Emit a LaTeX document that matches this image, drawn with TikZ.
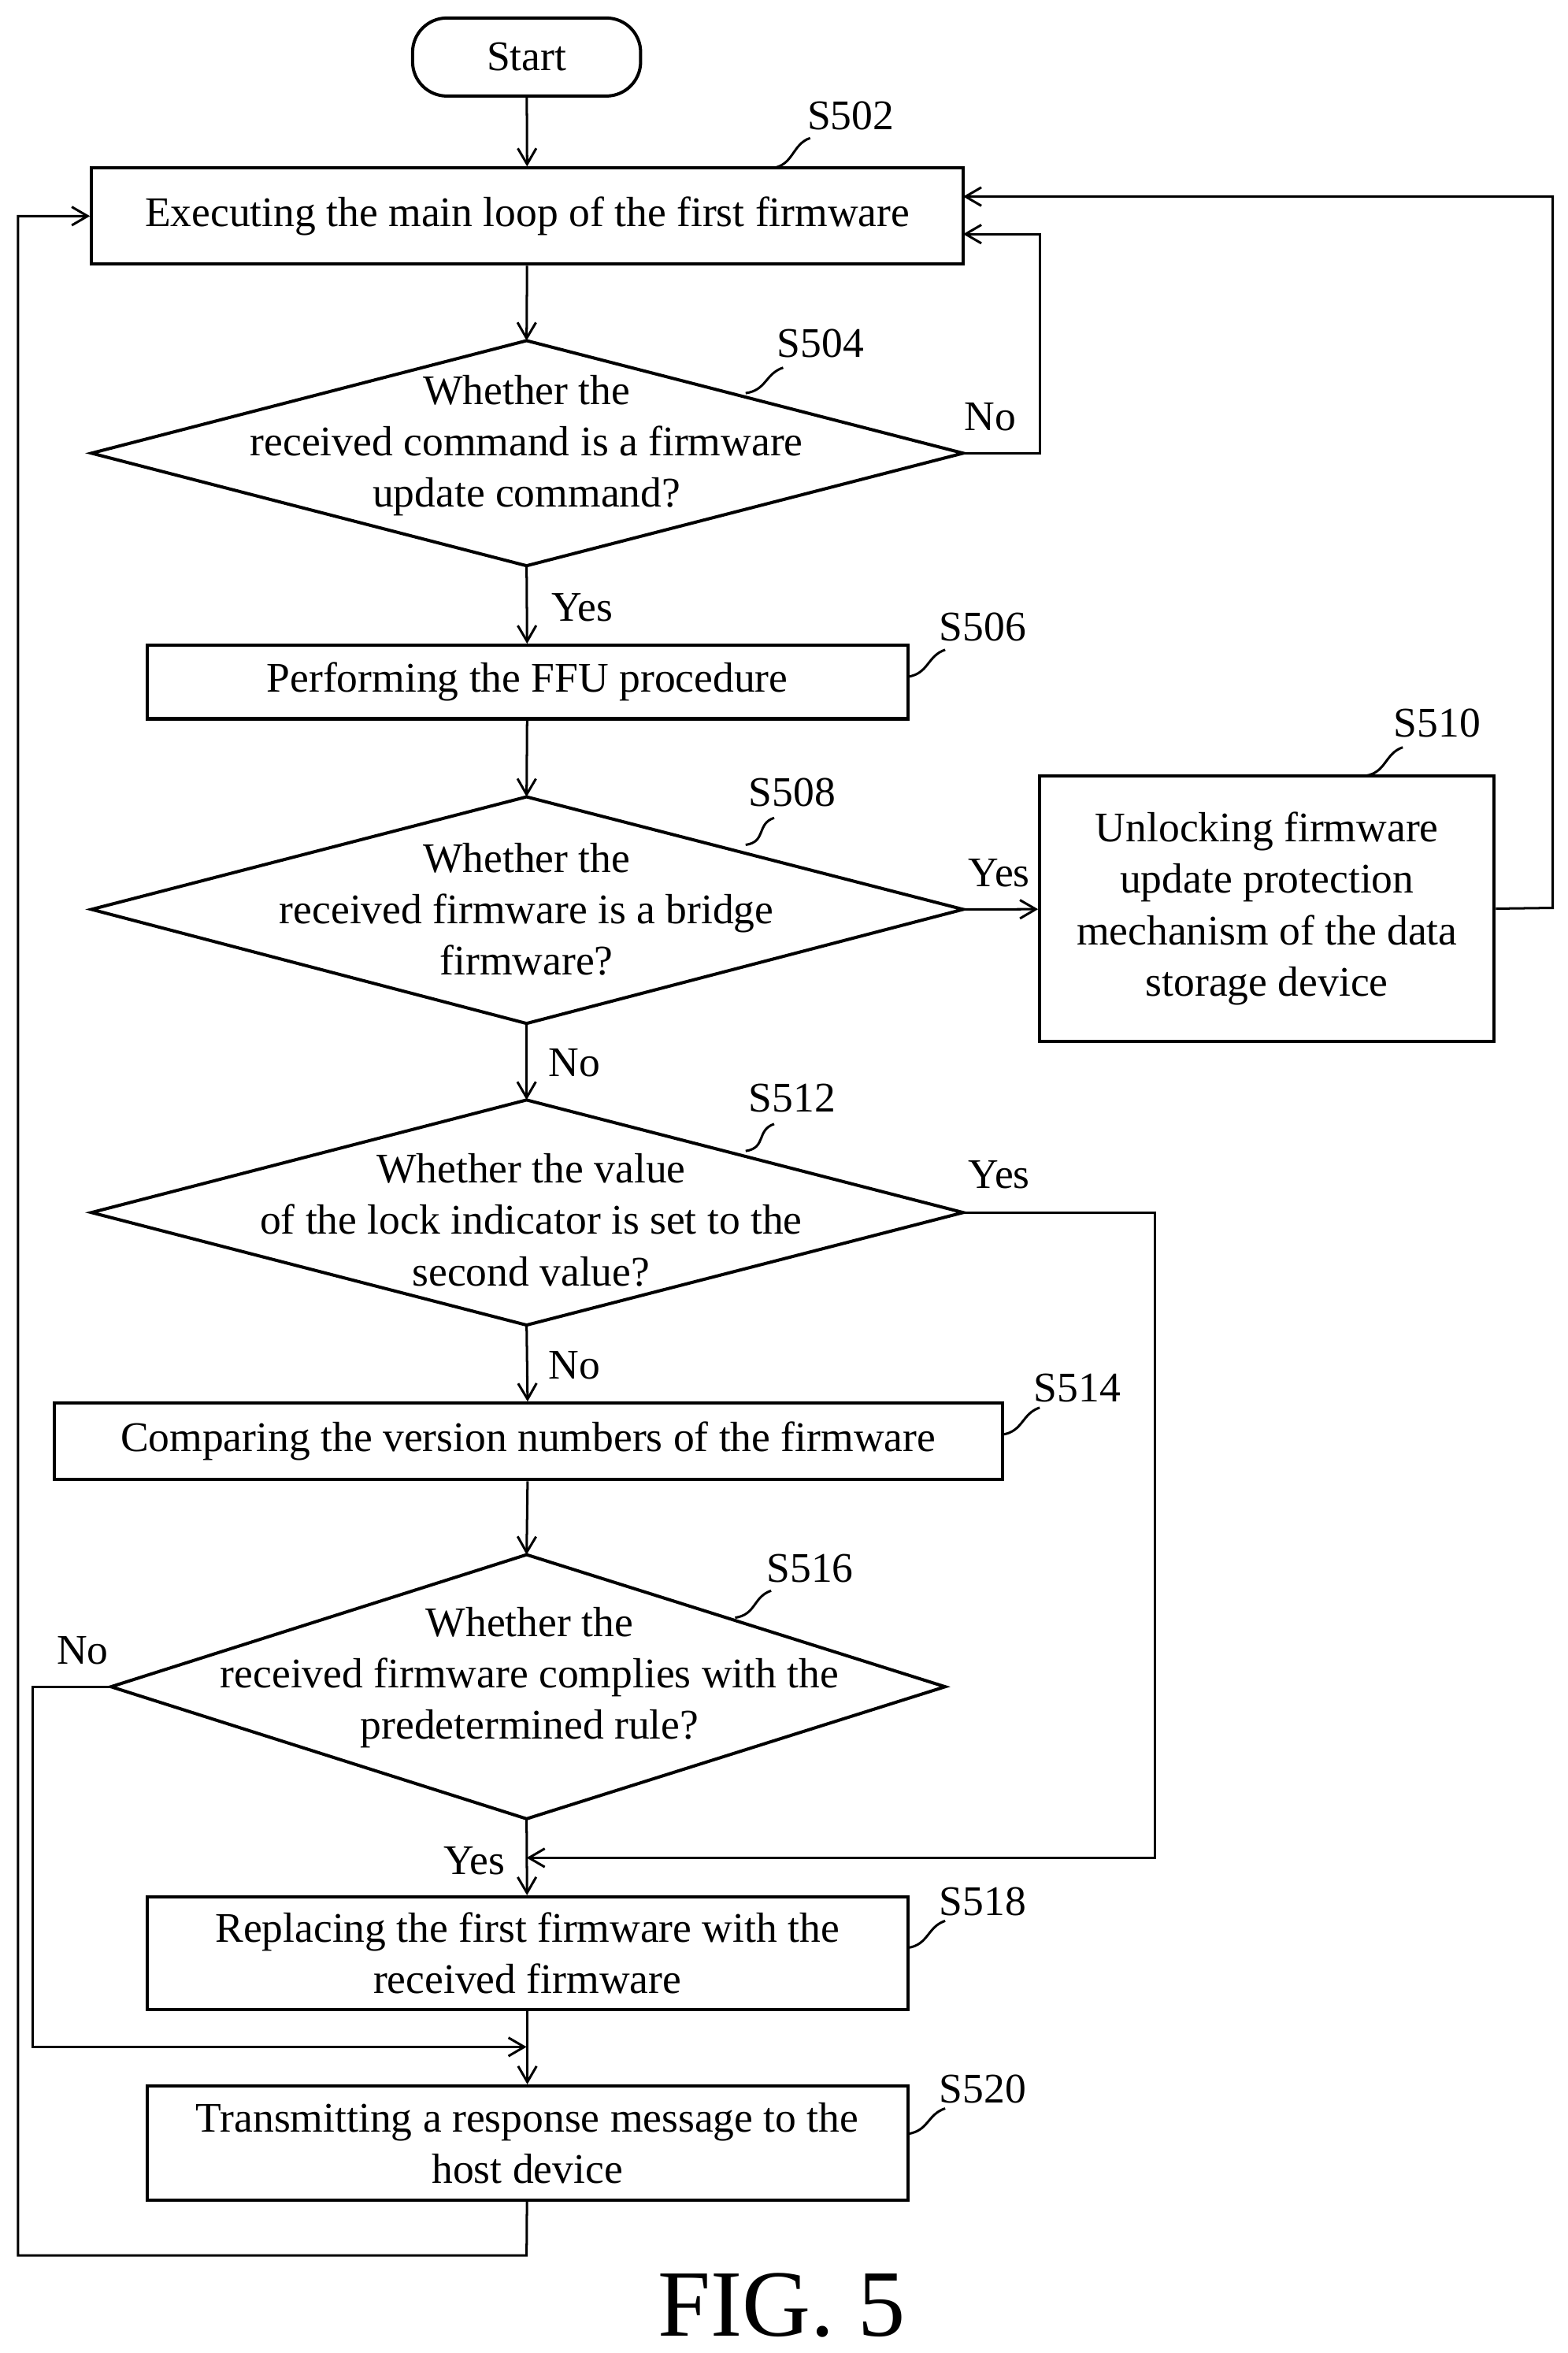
\documentclass[tikz,border=0pt]{standalone}
\usepackage{fontspec}
\setmainfont{Liberation Serif}
\usetikzlibrary{arrows.meta}
\begin{document}
\begin{tikzpicture}[x=0.02cm,y=-0.02cm,line width=1.2pt,
  font=\fontsize{16}{19.5}\selectfont,
  box/.style={draw,rectangle,inner sep=0,align=center},
  txt/.style={align=center,inner sep=0},
  arr/.style={-{Straight Barb[length=6pt,width=7pt]},line width=0.9pt},
  ln/.style={line width=0.9pt},
  lab/.style={inner sep=1pt}]
\useasboundingbox (0,0) rectangle (1045,1568);
% nodes
\node[draw,rounded corners=13pt,minimum width=152*0.02cm,minimum height=52*0.02cm,inner sep=0] (start) at (351,38) {Start};
\node[box,minimum width=581*0.02cm,minimum height=64*0.02cm] (s502) at (351.5,144) {Executing the main loop of the first firmware};
\draw (61,302) coordinate (d4l) -- (351,227) coordinate (d4t) -- (642,302) coordinate (d4r) -- (351,377) coordinate (d4b) -- cycle;
\node[txt] (t504) at (351,297) {Whether the\\received command is a firmware\\update command?};
\node[box,minimum width=507*0.02cm,minimum height=49*0.02cm] (s506) at (351.5,454.5) {Performing the FFU procedure};
\draw (61,606) coordinate (d8l) -- (351,531) coordinate (d8t) -- (642,606) coordinate (d8r) -- (351,682) coordinate (d8b) -- cycle;
\node[txt] (t508) at (351,606) {Whether the\\received firmware is a bridge\\firmware?};
\node[box,minimum width=303*0.02cm,minimum height=177*0.02cm] (s510) at (844.5,605.5) {Unlocking firmware\\update protection\\mechanism of the data\\storage device};
\draw (61,808) coordinate (d12l) -- (351,733) coordinate (d12t) -- (642,808) coordinate (d12r) -- (351,883) coordinate (d12b) -- cycle;
\node[txt] (t512) at (354,813) {Whether the value\\of the lock indicator is set to the\\second value?};
\node[box,minimum width=632*0.02cm,minimum height=51*0.02cm] (s514) at (352,960.5) {Comparing the version numbers of the firmware};
\draw (74,1124) coordinate (d16l) -- (351,1036) coordinate (d16t) -- (630,1124) coordinate (d16r) -- (351,1212) coordinate (d16b) -- cycle;
\node[txt] (t516) at (353,1118) {Whether the\\received firmware complies with the\\predetermined rule?};
\node[box,minimum width=507*0.02cm,minimum height=75*0.02cm] (s518) at (351.5,1301.5) {Replacing the first firmware with the\\received firmware};
\node[box,minimum width=507*0.02cm,minimum height=76*0.02cm] (s520) at (351.5,1428) {Transmitting a response message to the\\host device};
\node[font=\fontsize{36}{40}\selectfont] (fig) at (521,1536) {FIG. 5};
% main connectors
\draw[arr] (start) -- (s502);
\draw[arr] (s502) -- (d4t);
\draw[arr] (d4b) -- (s506);
\draw[arr] (s506) -- (d8t);
\draw[arr] (d8b) -- (d12t);
\draw[arr] (d12b) -- (s514);
\draw[arr] (s514) -- (d16t);
\draw[arr] (d16b) -- (s518);
\draw[arr] (s518) -- (s520);
\draw[arr] (d4r) -- (693,302) -- (693,156) -- (642,156);
\draw[arr] (d8r) -- (s510);
\draw[arr] (s510.east) -- (1035,605) -- (1035,131) -- (642,131);
\draw[arr] (d12r) -- (770,808) -- (770,1238) -- (351,1238);
\draw[arr] (d16l) -- (22,1124) -- (22,1364) -- (351,1364);
\draw[arr] (s520) -- (351,1503) -- (12,1503) -- (12,144) -- (s502.west);
% branch labels
\node[lab] (n1) at (660,278) {No};
\node[lab] (y1) at (388,405) {Yes};
\node[lab] (y2) at (666,582) {Yes};
\node[lab] (n2) at (383,708) {No};
\node[lab] (y3) at (666,783) {Yes};
\node[lab] (n3) at (383,910) {No};
\node[lab] (n4) at (55,1100) {No};
\node[lab] (y4) at (316,1240) {Yes};
% step labels
\foreach \name/\lx/\ly/\ax/\ay/\bx/\by in {
  S502/567/77/515/112/540/92,
  S504/547/229/497/262/522/245,
  S506/655/418/605/451/630/433,
  S510/958/482/910/517/935/498,
  S508/528/528/497/563/516/545,
  S512/528/732/497/767/516/749,
  S514/718/925/668/956/693/938,
  S516/540/1045/490/1078/514/1060,
  S518/655/1267/605/1298/630/1280,
  S520/655/1392/605/1422/630/1405}{
  \node[lab] (l\name) at (\lx,\ly) {\name};
  \draw[ln] (\ax,\ay) .. controls (\ax+14,\ay-2) and (\bx-12,\by+4) .. (\bx,\by);
}
\end{tikzpicture}
\end{document}
